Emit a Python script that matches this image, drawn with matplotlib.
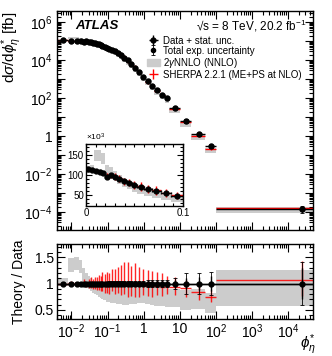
import numpy as np
import matplotlib.pyplot as plt
from matplotlib.ticker import LogLocator, MultipleLocator, FixedLocator, FuncFormatter, NullFormatter
from matplotlib.patches import Patch

plt.rcParams['font.family'] = ['Liberation Sans', 'DejaVu Sans']
plt.rcParams['mathtext.fontset'] = 'custom'
plt.rcParams['mathtext.rm'] = 'Liberation Sans'
plt.rcParams['mathtext.it'] = 'Liberation Sans:italic'
plt.rcParams['mathtext.bf'] = 'Liberation Sans:bold'

# bin edges in phi_eta*
edges = np.array([0, 0.004, 0.008, 0.012, 0.016, 0.020, 0.024, 0.028, 0.032, 0.037,
                  0.042, 0.047, 0.053, 0.060, 0.068, 0.077, 0.088, 0.1, 0.12, 0.145,
                  0.175, 0.21, 0.26, 0.32, 0.4, 0.5, 0.65, 0.85, 1.1, 1.5,
                  2.0, 2.8, 3.8, 5.0, 10, 20, 50, 100, 5e4])

# measured cross section [fb]
xsec = np.array([114e3, 113e3, 110e3, 108e3, 106e3, 96e3, 100e3, 96e3, 90e3, 85e3,
                 80e3, 75e3, 70e3, 65e3, 60e3, 54e3, 48e3, 42e3, 36e3, 30e3,
                 24.5e3, 19e3, 14e3, 10e3, 6.6e3, 4.1e3, 2.5e3, 1.3e3, 800, 470,
                 270, 160, 105, 30, 6.6, 1.3, 0.31, 1.6e-4])

# relative uncertainties of the data
stat_rel = np.array([0.015] * 17 + [0.02] * 11 + [0.04] * 5 + [0.06, 0.10, 0.12, 0.15, 0.30])
tot_rel = np.array([0.03] * 17 + [0.04] * 11 + [0.06] * 5 + [0.10, 0.20, 0.20, 0.22, 0.40])

# 2gNNLO / data band
nnlo_lo = np.array([0.92, 0.95, 1.22, 1.25, 1.20, 1.05, 0.95, 0.90, 0.85, 0.82,
                    0.80, 0.78, 0.75, 0.72, 0.70, 0.68, 0.66, 0.65, 0.64, 0.63,
                    0.62, 0.61, 0.60, 0.60, 0.61, 0.62, 0.63, 0.63, 0.62, 0.60,
                    0.58, 0.57, 0.56, 0.55, 0.50, 0.52, 0.45, 0.58])
nnlo_hi = np.array([1.08, 1.10, 1.48, 1.50, 1.45, 1.30, 1.20, 1.15, 1.10, 1.05,
                    1.02, 1.00, 0.98, 0.96, 0.95, 0.94, 0.93, 0.93, 0.94, 0.95,
                    0.96, 0.97, 0.98, 0.99, 1.00, 1.00, 1.00, 0.99, 0.97, 0.95,
                    0.93, 0.92, 0.92, 0.90, 0.88, 0.90, 0.82, 1.26])

# SHERPA / data with uncertainty
sherpa = np.array([1.00, 1.00, 1.01, 0.99, 1.00, 1.03, 0.98, 1.00, 1.02, 0.99,
                   1.01, 1.00, 1.02, 1.00, 1.03, 1.00, 1.02, 1.00, 1.03, 1.00,
                   1.02, 1.00, 1.03, 1.00, 0.98, 1.00, 0.97, 0.98, 0.96, 0.95,
                   0.96, 0.94, 0.95, 0.93, 0.91, 0.84, 0.75, 1.07])
sherpa_up = np.array([0.03, 0.03, 0.03, 0.03, 0.03, 0.05, 0.05, 0.08, 0.10, 0.10,
                      0.12, 0.12, 0.15, 0.15, 0.18, 0.18, 0.20, 0.20, 0.25, 0.28,
                      0.30, 0.35, 0.38, 0.40, 0.35, 0.38, 0.35, 0.30, 0.30, 0.28,
                      0.25, 0.25, 0.20, 0.20, 0.15, 0.13, 0.12, 0.35])
sherpa_dn = np.array([0.03, 0.03, 0.03, 0.03, 0.03, 0.05, 0.05, 0.08, 0.10, 0.10,
                      0.12, 0.12, 0.15, 0.15, 0.18, 0.18, 0.20, 0.20, 0.18, 0.20,
                      0.20, 0.22, 0.22, 0.25, 0.22, 0.25, 0.22, 0.20, 0.20, 0.20,
                      0.18, 0.18, 0.15, 0.15, 0.17, 0.15, 0.10, 0.30])

# labelled decades
x_decades = [1e-2, 1e-1, 1, 10, 1e2, 1e3, 1e4]
y_decades = [1e-4, 1e-3, 1e-2, 1e-1, 1, 10, 1e2, 1e3, 1e4, 1e5, 1e6]

centers = 0.5 * (edges[:-1] + edges[1:])
halfw = 0.5 * np.diff(edges)
lo_edges = edges[:-1]
widths = np.diff(edges)

GRAY = '#cccccc'
RED = '#ff0000'


def log_label(v, pos):
    e = int(round(np.log10(v)))
    if e == 0:
        return '1'
    if e == 1:
        return '10'
    return r'$10^{%d}$' % e


def even_log_label(v, pos):
    e = int(round(np.log10(v)))
    if e % 2:
        return ''
    return log_label(v, pos)


def atlas_ticks(ax, major=6, minor=3):
    ax.tick_params(which='both', direction='in', top=True, right=True, width=0.8)
    ax.tick_params(which='major', length=major)
    ax.tick_params(which='minor', length=minor)
    for s in ax.spines.values():
        s.set_linewidth(1.0)


fig = plt.figure(figsize=(3.32, 3.56), dpi=100)
ax = fig.add_axes([0.172, 0.354, 0.771, 0.615])
axr = fig.add_axes([0.172, 0.104, 0.771, 0.211])
axi = fig.add_axes([0.259, 0.421, 0.292, 0.174])

m = lo_edges > 0

# ---- main panel
ax.bar(lo_edges[m], (xsec * (nnlo_hi - nnlo_lo))[m], width=widths[m], bottom=(xsec * nnlo_lo)[m],
       align='edge', color=GRAY, lw=0, zorder=1)
h_sh = ax.errorbar(centers[m], (xsec * sherpa)[m], xerr=halfw[m],
                   yerr=[(xsec * sherpa_dn)[m], (xsec * sherpa_up)[m]],
                   fmt='none', ecolor=RED, elinewidth=1, zorder=2)
h_tot = ax.errorbar(centers[m], xsec[m], yerr=(xsec * tot_rel)[m], fmt='o', ms=3, color='k',
                    elinewidth=0.6, capsize=1.5, capthick=0.6, zorder=3)
h_dat = ax.errorbar(centers[m], xsec[m], xerr=halfw[m], yerr=(xsec * stat_rel)[m], fmt='o',
                    ms=3.5, color='k', elinewidth=1, zorder=4)
ax.set_xscale('log')
ax.set_yscale('log')
ax.set_xlim(0.004, 5e4)
ax.set_ylim(1.2e-5, 4e6)
ax.yaxis.set_major_locator(FixedLocator(y_decades))
ax.yaxis.set_minor_locator(LogLocator(base=10, subs=np.arange(2, 10), numticks=100))
ax.yaxis.set_major_formatter(FuncFormatter(even_log_label))
ax.yaxis.set_minor_formatter(NullFormatter())
ax.xaxis.set_major_locator(FixedLocator(x_decades))
ax.xaxis.set_minor_locator(LogLocator(base=10, subs=np.arange(2, 10), numticks=100))
ax.xaxis.set_major_formatter(NullFormatter())
ax.xaxis.set_minor_formatter(NullFormatter())
atlas_ticks(ax)
ax.tick_params(labelsize=10)
ax.set_ylabel(r'd$\sigma$/d$\phi_{\eta}^{*}$ [fb]', fontsize=11, loc='top')
ax.yaxis.set_label_coords(-0.13, 1.0)

fig.text(0.226, 0.927, 'ATLAS', fontsize=9.5, fontweight='bold', fontstyle='italic', va='center')
fig.text(0.925, 0.927, '\u221As = 8 TeV, 20.2 fb$^{-1}$', fontsize=8.5, ha='right', va='center')
ax.legend([h_dat, h_tot, Patch(color=GRAY), h_sh],
          ['Data + stat. unc.', 'Total exp. uncertainty', r'2$\gamma$NNLO (NNLO)',
           'SHERPA 2.2.1 (ME+PS at NLO)'],
          loc='upper left', bbox_to_anchor=(0.443, 0.900), bbox_transform=fig.transFigure,
          frameon=False, fontsize=7, handlelength=1.3, handletextpad=0.35,
          labelspacing=0.0, borderpad=0, borderaxespad=0)

# ---- inset
axi.bar(lo_edges, xsec * (nnlo_hi - nnlo_lo) / 1e3, width=widths, bottom=xsec * nnlo_lo / 1e3,
        align='edge', color=GRAY, lw=0, zorder=1)
axi.errorbar(centers, xsec * sherpa / 1e3, xerr=halfw,
             yerr=[xsec * sherpa_dn / 1e3, xsec * sherpa_up / 1e3],
             fmt='none', ecolor=RED, elinewidth=1, zorder=2)
axi.errorbar(centers, xsec / 1e3, xerr=halfw, yerr=xsec * tot_rel / 1e3, fmt='o', ms=3.5,
             color='k', elinewidth=1, capsize=1, zorder=3)
axi.set_xlim(0, 0.1)
axi.set_ylim(22, 177)
axi.xaxis.set_major_locator(FixedLocator([0, 0.1]))
axi.xaxis.set_major_formatter(FuncFormatter(lambda v, p: '0' if v == 0 else '0.1'))
axi.xaxis.set_minor_locator(MultipleLocator(0.01))
axi.yaxis.set_major_locator(FixedLocator([50, 100, 150]))
axi.yaxis.set_minor_locator(MultipleLocator(10))
atlas_ticks(axi, major=4, minor=2)
axi.tick_params(labelsize=7, pad=1.5)
axi.text(0.0, 1.02, r'$\times10^{3}$', transform=axi.transAxes, fontsize=6, va='bottom')

# ---- ratio panel
axr.bar(lo_edges[m], (nnlo_hi - nnlo_lo)[m], width=widths[m], bottom=nnlo_lo[m],
        align='edge', color=GRAY, lw=0, zorder=1)
axr.errorbar(centers[m], sherpa[m], xerr=halfw[m], yerr=[sherpa_dn[m], sherpa_up[m]],
             fmt='none', ecolor=RED, elinewidth=1, alpha=0.85, zorder=2)
axr.axhline(1, color='k', lw=1, zorder=3)
axr.errorbar(centers[m], np.ones(m.sum()), yerr=tot_rel[m], fmt='none', ecolor='k',
             elinewidth=0.6, capsize=1.5, capthick=0.6, zorder=3)
axr.errorbar(centers[m], np.ones(m.sum()), xerr=halfw[m], yerr=stat_rel[m], fmt='o', ms=3.5,
             color='k', elinewidth=1, zorder=4)
axr.set_xscale('log')
axr.set_xlim(0.004, 5e4)
axr.set_ylim(0.33, 1.75)
axr.xaxis.set_major_locator(FixedLocator(x_decades))
axr.xaxis.set_minor_locator(LogLocator(base=10, subs=np.arange(2, 10), numticks=100))
axr.xaxis.set_major_formatter(FuncFormatter(log_label))
axr.xaxis.set_minor_formatter(NullFormatter())
axr.yaxis.set_major_locator(FixedLocator([0.5, 1.0, 1.5]))
axr.yaxis.set_major_formatter(FuncFormatter(lambda v, p: '1' if v == 1 else '%.1f' % v))
axr.yaxis.set_minor_locator(MultipleLocator(0.1))
atlas_ticks(axr)
axr.tick_params(labelsize=10, pad=2.5)
axr.set_ylabel('Theory / Data', fontsize=10)
axr.yaxis.set_label_coords(-0.12, 0.5)
axr.set_xlabel(r'$\phi_{\eta}^{*}$', fontsize=11, loc='right')
axr.xaxis.set_label_coords(1.01, -0.18)

fig.savefig('out.png', dpi=100)
